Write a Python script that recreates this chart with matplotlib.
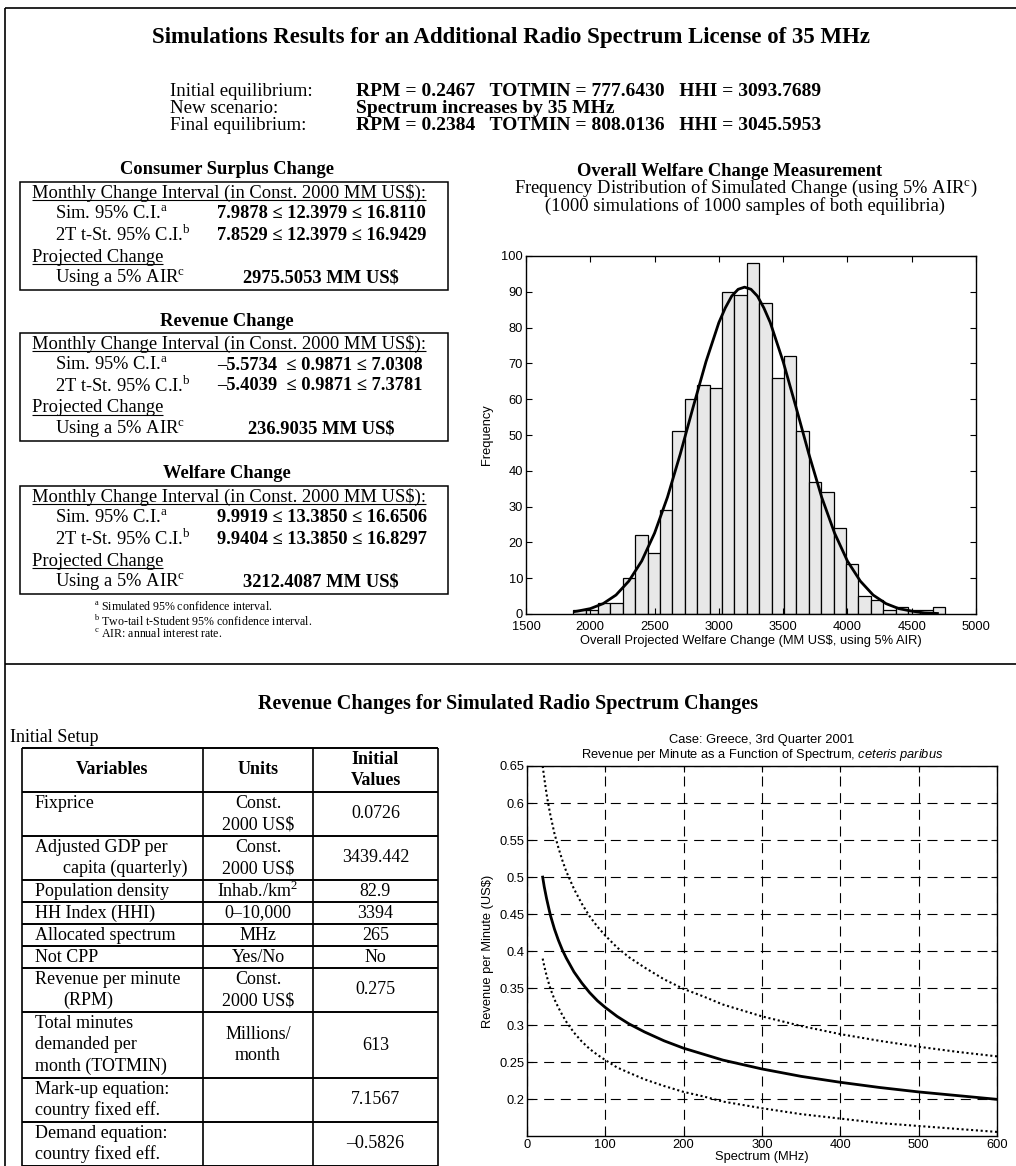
import matplotlib
matplotlib.use('Agg')
import matplotlib.pyplot as plt
import numpy as np

SERIF = ['Liberation Serif', 'DejaVu Serif']
SANS = ['Liberation Sans', 'DejaVu Sans']

plt.rcParams['font.family'] = SERIF
plt.rcParams['mathtext.fontset'] = 'custom'
plt.rcParams['mathtext.rm'] = 'Liberation Serif'
plt.rcParams['mathtext.it'] = 'Liberation Sans:italic'
plt.rcParams['mathtext.bf'] = 'Liberation Serif:bold'

# ---------------- data ----------------
equilibrium_labels = ['Initial equilibrium:', 'New scenario:', 'Final equilibrium:']
equilibrium_values = ['RPM = 0.2467   TOTMIN = 777.6430   HHI = 3093.7689',
                      'Spectrum increases by 35 MHz',
                      'RPM = 0.2384   TOTMIN = 808.0136   HHI = 3045.5953']

change_titles = ['Consumer Surplus Change', 'Revenue Change', 'Welfare Change']
sim_ci = ['7.9878 ≤ 12.3979 ≤ 16.8110',
          '–5.5734  ≤ 0.9871 ≤ 7.0308',
          '9.9919 ≤ 13.3850 ≤ 16.6506']
tst_ci = ['7.8529 ≤ 12.3979 ≤ 16.9429',
          '–5.4039  ≤ 0.9871 ≤ 7.3781',
          '9.9404 ≤ 13.3850 ≤ 16.8297']
projected = ['2975.5053 MM US\\$', '236.9035 MM US\\$', '3212.4087 MM US\\$']
footnotes = [('a', 'Simulated 95% confidence interval.'),
             ('b', 'Two-tail t-Student 95% confidence interval.'),
             ('c', 'AIR: annual interest rate.')]

# histogram of simulated welfare change (30 bins)
hist_counts = [1, 1, 3, 3, 10, 22, 17, 29, 51, 60, 64, 63, 90, 89, 98,
               87, 66, 72, 51, 37, 34, 24, 14, 5, 4, 1, 2, 1, 1, 2]
hist_range = (1868, 4760)
fit_x = [1880, 1900, 2000, 2100, 2200, 2300, 2400, 2500, 2600, 2700, 2800, 2900,
         3000, 3050, 3100, 3150, 3200, 3250, 3300, 3350, 3400, 3500, 3600, 3700,
         3800, 3900, 4000, 4100, 4200, 4300, 4400, 4500, 4600, 4700]
fit_y = [0.7, 0.8, 1.5, 2.9, 5.3, 9.2, 14.8, 22.6, 32.6, 44.7, 57.8, 70.5,
         81.4, 85.5, 88.8, 90.7, 91.3, 90.7, 88.8, 85.5, 81.4, 70.5, 57.8, 44.7,
         32.6, 22.6, 14.8, 9.2, 5.3, 2.9, 1.5, 0.8, 0.3, 0.15]

# initial setup table
table_header = ['Variables', 'Units', 'Initial\nValues']
table_vars = ['Fixprice', 'Adjusted GDP per\n\tcapita (quarterly)', 'Population density',
              'HH Index (HHI)', 'Allocated spectrum', 'Not CPP',
              'Revenue per minute\n\t(RPM)', 'Total minutes\ndemanded per\nmonth (TOTMIN)',
              'Mark-up equation:\ncountry fixed eff.', 'Demand equation:\ncountry fixed eff.']
table_units = ['Const.\n2000 US\\$', 'Const.\n2000 US\\$', 'Inhab./km$^2$', '0–10,000',
               'MHz', 'Yes/No', 'Const.\n2000 US\\$', 'Millions/\nmonth', '', '']
table_values = ['0.0726', '3439.442', '82.9', '3394', '265', 'No', '0.275', '613',
                '7.1567', '–0.5826']

# revenue per minute vs spectrum (central estimate and dotted bounds)
spectrum = [20, 22, 25, 28, 30, 35, 40, 45, 50, 60, 70, 80, 90, 100, 115, 130,
            150, 175, 200, 225, 250, 300, 350, 400, 450, 500, 550, 600]
rpm_mid = [0.500, 0.487, 0.471, 0.457, 0.448, 0.430, 0.415, 0.402, 0.391, 0.372,
           0.357, 0.344, 0.333, 0.324, 0.312, 0.302, 0.291, 0.279, 0.269, 0.261,
           0.253, 0.241, 0.231, 0.223, 0.216, 0.210, 0.205, 0.200]
rpm_upper = [0.650, 0.634, 0.612, 0.594, 0.583, 0.559, 0.540, 0.523, 0.508, 0.484,
             0.464, 0.447, 0.433, 0.421, 0.405, 0.392, 0.378, 0.362, 0.349, 0.339,
             0.328, 0.312, 0.299, 0.288, 0.279, 0.271, 0.264, 0.258]
rpm_lower = [0.390, 0.380, 0.367, 0.356, 0.349, 0.335, 0.324, 0.314, 0.305, 0.290,
             0.278, 0.268, 0.260, 0.253, 0.243, 0.236, 0.227, 0.218, 0.210, 0.204,
             0.197, 0.188, 0.180, 0.174, 0.168, 0.164, 0.160, 0.156]

# ---------------- layout ----------------
W, H = 1016, 1166
fig = plt.figure(figsize=(W / 100, H / 100), dpi=100)
cv = fig.add_axes([0, 0, 1, 1])
cv.set_xlim(0, W)
cv.set_ylim(H, 0)
cv.axis('off')
renderer = fig.canvas.get_renderer()


def line(x0, y0, x1, y1, lw=1.1):
    cv.plot([x0, x1], [y0, y1], color='black', lw=lw, solid_capstyle='butt')


def box(x0, y0, x1, y1, lw=1.1):
    cv.add_patch(plt.Rectangle((x0, y0), x1 - x0, y1 - y0, fill=False, lw=lw, ec='black'))


def text(x, y, s, **kw):
    kw.setdefault('va', 'center')
    return cv.text(x, y, s, **kw)


def underlined(x, y, s, **kw):
    t = text(x, y, s, **kw)
    bb = t.get_window_extent(renderer)
    inv = cv.transData.inverted()
    x0 = inv.transform((bb.x0, bb.y0))[0]
    x1 = inv.transform((bb.x1, bb.y0))[0]
    line(x0, y + 7, x1, y + 7, lw=0.8)


def px_axes(l, t, r, b):
    return fig.add_axes([l / W, 1 - b / H, (r - l) / W, (b - t) / H])


# frame
line(5, 8, W, 8, lw=1.2)
line(5, 8, 5, H, lw=1.2)
line(5, 664, W, 664, lw=1.2)

# ---- top section ----
text(511, 38, 'Simulations Results for an Additional Radio Spectrum License of 35 MHz',
     ha='center', fontsize=16.5, fontweight='bold')
for i, (lab, val) in enumerate(zip(equilibrium_labels, equilibrium_values)):
    y = 91 + 17.5 * i
    text(170, y, lab, fontsize=13.5)
    text(356, y, val, fontsize=14, fontweight='bold')

box_tops = [182, 333, 486]
for k in range(3):
    top = box_tops[k]
    text(227, top - 12, change_titles[k], ha='center', fontsize=13.3, fontweight='bold')
    box(20, top, 448, top + 108)
    underlined(32, top + 11, 'Monthly Change Interval (in Const. 2000 MM US\\$):', fontsize=13.3)
    text(55, top + 32, 'Sim. 95% C.I.$^{\\mathrm{a}}$', fontsize=13.3)
    text(217, top + 32, sim_ci[k], fontsize=13.3, fontweight='bold')
    text(55, top + 53, '2T t-St. 95% C.I.$^{\\mathrm{b}}$', fontsize=13.3)
    text(217, top + 53, tst_ci[k], fontsize=13.3, fontweight='bold')
    underlined(32, top + 75, 'Projected Change', fontsize=13.3)
    text(55, top + 96, 'Using a 5% AIR$^{\\mathrm{c}}$', fontsize=13.3)
    text(321, top + 96, projected[k], ha='center', fontsize=13.3, fontweight='bold')

note_text = '\n'.join('$^{\\mathrm{%s}}$ %s' % (m, s) for m, s in footnotes)
cv.text(94, 601, note_text, va='top', ha='left', fontsize=8.6, linespacing=0.95)

# histogram titles
text(730, 171, 'Overall Welfare Change Measurement', ha='center', fontsize=13.3, fontweight='bold')
text(746, 188, 'Frequency Distribution of Simulated Change (using 5% AIR$^{\\mathrm{c}}$)',
     ha='center', fontsize=13.3)
text(745, 206, '(1000 simulations of 1000 samples of both equilibria)', ha='center', fontsize=13.3)

ax = px_axes(526, 256, 976, 614)
edges = np.linspace(hist_range[0], hist_range[1], len(hist_counts) + 1)
ax.bar(edges[:-1], hist_counts, width=np.diff(edges), align='edge',
       color='#e8e8e8', edgecolor='black', lw=0.9)
ax.plot(fit_x, fit_y, color='black', lw=2)
ax.set_xlim(1500, 5000)
ax.set_ylim(0, 100)
ax.set_xticks(range(1500, 5001, 500))
ax.set_yticks(range(0, 101, 10))
ax.tick_params(direction='in', top=True, right=True, length=4, labelsize=9.3)
ax.tick_params(axis='x', pad=5)
ax.tick_params(axis='y', pad=2)
for lab in ax.get_xticklabels() + ax.get_yticklabels():
    lab.set_family(SANS)
ax.set_xlabel('Overall Projected Welfare Change (MM US\\$, using 5% AIR)',
              family=SANS, fontsize=9.3, labelpad=1.5)
ax.set_ylabel('Frequency', family=SANS, fontsize=9.3, labelpad=6)
for sp in ax.spines.values():
    sp.set_linewidth(1.0)

# ---- bottom section ----
text(508, 704, 'Revenue Changes for Simulated Radio Spectrum Changes',
     ha='center', fontsize=14.5, fontweight='bold')
text(10, 737, 'Initial Setup', fontsize=13)

cols = [22, 203, 313, 438]
unit_cx = (cols[1] + cols[2]) / 2
val_cx = (cols[2] + cols[3]) / 2
lh = 21.5
rows = [table_header] + [list(r) for r in zip(table_vars, table_units, table_values)]
y = 748
line(cols[0], y, cols[3], y, lw=1.4)
for r, (var, unit, val) in enumerate(rows):
    var_lines = var.split('\n')
    unit_lines = unit.split('\n') if unit else []
    val_lines = val.split('\n')
    n = max(len(var_lines), len(unit_lines), len(val_lines))
    h = 22 * n
    mid = y + h / 2
    weight = 'bold' if r == 0 else 'normal'
    if r == 0:
        text((cols[0] + cols[1]) / 2, mid, var, ha='center', fontsize=13, fontweight='bold')
    else:
        for i, s in enumerate(var_lines):
            x = 63 if s.startswith('\t') else 35
            text(x, y + 11 + lh * i, s.strip('\t'), fontsize=13)
    for i, s in enumerate(unit_lines):
        text(unit_cx, mid - (len(unit_lines) - 1) * lh / 2 + lh * i, s,
             ha='center', fontsize=13, fontweight=weight)
    for i, s in enumerate(val_lines):
        text(val_cx, mid - (len(val_lines) - 1) * lh / 2 + lh * i, s,
             ha='center', fontsize=13, fontweight=weight)
    y += h
    line(cols[0], y, cols[3], y, lw=1.4)
for c in cols:
    line(c, 748, c, y, lw=1.2)

# revenue per minute chart
text(762, 740, 'Case: Greece, 3rd Quarter 2001', ha='center', family=SANS, fontsize=9.3)
text(762, 755, 'Revenue per Minute as a Function of Spectrum, $\\mathit{ceteris\\ paribus}$',
     ha='center', family=SANS, fontsize=9.3)

ax2 = px_axes(527, 766, 997, 1136)
ax2.plot(spectrum, rpm_upper, color='black', lw=1.5, ls=(0, (1, 1.3)))
ax2.plot(spectrum, rpm_mid, color='black', lw=2)
ax2.plot(spectrum, rpm_lower, color='black', lw=1.5, ls=(0, (1, 1.3)))
ax2.set_xlim(0, 600)
ax2.set_ylim(0.1505, 0.65)
ax2.set_xticks(range(0, 601, 100))
yt = [round(v, 2) for v in np.arange(0.2, 0.651, 0.05)]
ax2.set_yticks(yt)
ax2.set_yticklabels(['%g' % v for v in yt])
ax2.grid(True, color='black', lw=0.8, ls=(0, (9, 6)))
ax2.tick_params(direction='in', top=True, right=True, length=4, labelsize=9.3, pad=2)
for lab in ax2.get_xticklabels() + ax2.get_yticklabels():
    lab.set_family(SANS)
ax2.set_xlabel('Spectrum (MHz)', family=SANS, fontsize=9.3, labelpad=0)
ax2.set_ylabel('Revenue per Minute (US\\$)', family=SANS, fontsize=9.3, labelpad=4)
for sp in ax2.spines.values():
    sp.set_linewidth(1.0)

fig.savefig('out.png', dpi=100)
